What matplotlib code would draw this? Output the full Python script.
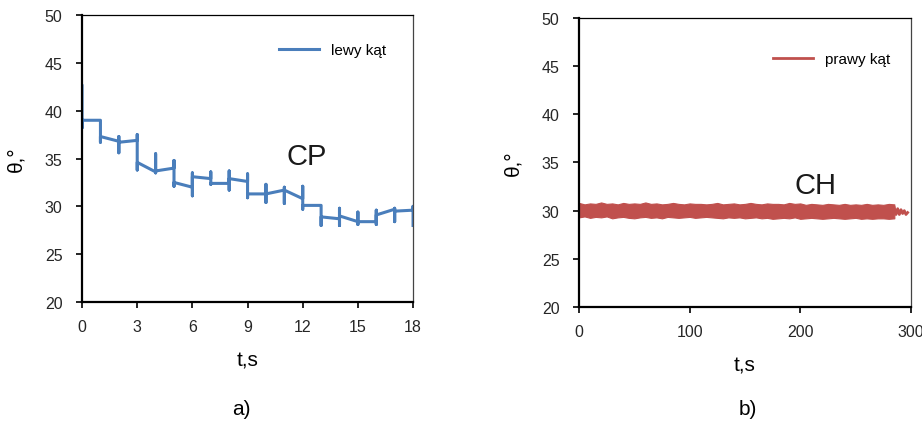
import matplotlib.pyplot as plt
import numpy as np

plt.rcParams['font.family'] = ['Liberation Sans', 'DejaVu Sans']

# a) lewy kąt - value at each second: vertical spread (lo/hi), then segment start/end
t_sec = list(range(19))
bar_lo = [38.2, 36.7, 35.6, 33.8, 33.5, 32.1, 31.1, 32.3, 31.7, 30.9, 30.4, 30.3, 29.7, 28.0, 28.0, 28.1, 28.1, 28.4, 28.0]
bar_hi = [42.6, 39.0, 37.3, 37.5, 35.5, 34.8, 33.5, 33.6, 33.7, 33.4, 32.3, 32.0, 32.1, 30.1, 29.8, 29.4, 29.6, 29.8, 30.0]
seg_start = [39.0, 37.3, 36.7, 34.6, 33.7, 32.5, 33.1, 32.4, 32.9, 31.3, 31.3, 31.7, 30.1, 28.9, 29.0, 28.4, 29.1, 29.5]
seg_end = [39.0, 36.8, 36.9, 33.6, 34.0, 32.0, 32.9, 32.4, 32.6, 31.3, 31.7, 30.8, 30.1, 28.7, 28.4, 28.4, 29.7, 29.6]

# b) prawy kąt - envelope of the dense signal (every 5 s) and the short tail
t_band = [0, 5, 10, 15, 20, 25, 30, 35, 40, 45, 50, 55, 60, 65, 70, 75, 80, 85, 90, 95,
          100, 105, 110, 115, 120, 125, 130, 135, 140, 145, 150, 155, 160, 165, 170, 175,
          180, 185, 190, 195, 200, 205, 210, 215, 220, 225, 230, 235, 240, 245, 250, 255,
          260, 265, 270, 275, 280, 285]
band_hi = [30.8, 30.65, 30.75, 30.7, 30.85, 30.7, 30.75, 30.65, 30.8, 30.7, 30.75, 30.7, 30.85, 30.7,
           30.75, 30.65, 30.7, 30.8, 30.7, 30.65, 30.75, 30.7, 30.7, 30.65, 30.7, 30.8, 30.65, 30.7,
           30.75, 30.65, 30.7, 30.8, 30.7, 30.65, 30.75, 30.7, 30.7, 30.65, 30.8, 30.7, 30.75, 30.6,
           30.7, 30.65, 30.6, 30.7, 30.65, 30.6, 30.7, 30.6, 30.65, 30.6, 30.7, 30.6, 30.65, 30.6,
           30.7, 30.65]
band_lo = [29.3, 29.4, 29.25, 29.35, 29.3, 29.4, 29.2, 29.3, 29.35, 29.25, 29.2, 29.3, 29.35, 29.25,
           29.3, 29.2, 29.35, 29.3, 29.25, 29.3, 29.35, 29.25, 29.3, 29.35, 29.3, 29.25, 29.2, 29.3,
           29.25, 29.3, 29.2, 29.25, 29.3, 29.2, 29.25, 29.15, 29.2, 29.25, 29.2, 29.3, 29.15, 29.2,
           29.25, 29.2, 29.15, 29.2, 29.25, 29.2, 29.15, 29.2, 29.25, 29.15, 29.2, 29.15, 29.2, 29.2,
           29.15, 29.2]
t_tail = [285, 286.5, 288, 289.5, 291, 292.5, 294, 295.5, 297]
tail = [30.3, 29.6, 30.2, 29.6, 30.1, 29.7, 30.0, 29.6, 29.8]

blue = '#4a7ebb'
red = '#c0504d'


def style_axes(ax, xticks, xlim):
    ax.set_ylim(20, 50)
    ax.set_yticks(range(20, 51, 5))
    ax.set_xlim(*xlim)
    ax.set_xticks(xticks)
    for s in ['left', 'bottom']:
        ax.spines[s].set_linewidth(1.6)
        ax.spines[s].set_color('black')
    ax.spines['top'].set_linewidth(0.9)
    ax.spines['right'].set_linewidth(0.9)
    ax.spines['right'].set_color('#444444')
    ax.tick_params(axis='both', direction='out', length=4, width=1.2,
                   labelsize=11.5, labelcolor='#262626')
    ax.tick_params(axis='y', pad=10)
    ax.tick_params(axis='x', pad=8)
    ax.set_xlabel('t,s', fontsize=15, labelpad=12)
    ax.set_ylabel('θ,°', fontsize=15, labelpad=14)


fig = plt.figure(figsize=(9.22, 4.27), dpi=100)
ax1 = fig.add_axes([0.089, 0.2904, 0.359, 0.672])
ax2 = fig.add_axes([0.628, 0.2787, 0.360, 0.677])

# build the step-like polyline for panel a)
xs, ys = [], []
for i in t_sec:
    xs += [i, i]
    ys += [bar_hi[i], bar_lo[i]]
    if i < len(seg_start):
        xs += [i, i + 1]
        ys += [seg_start[i], seg_end[i]]
ax1.plot(xs, ys, color=blue, lw=2.2, label='lewy kąt')
style_axes(ax1, range(0, 19, 3), (0, 18))
ax1.text(12.2, 35.3, 'CP', fontsize=21, ha='center', va='center', color='#1a1a1a')
ax1.legend(loc='upper right', bbox_to_anchor=(0.96, 0.95), frameon=False,
           fontsize=11, handlelength=2.6)

ax2.fill_between(t_band, band_lo, band_hi, color=red, lw=0.8, edgecolor=red)
ax2.plot(t_tail, tail, color=red, lw=2.0, label='prawy kąt')
style_axes(ax2, range(0, 301, 100), (0, 300))
ax2.text(214, 32.7, 'CH', fontsize=21, ha='center', va='center', color='#1a1a1a')
ax2.legend(loc='upper right', bbox_to_anchor=(0.98, 0.93), frameon=False,
           fontsize=11, handlelength=2.6)

fig.text(0.262, 0.04, 'a)', fontsize=15, ha='center', va='center')
fig.text(0.811, 0.04, 'b)', fontsize=15, ha='center', va='center')

plt.savefig('out.png', dpi=100)
